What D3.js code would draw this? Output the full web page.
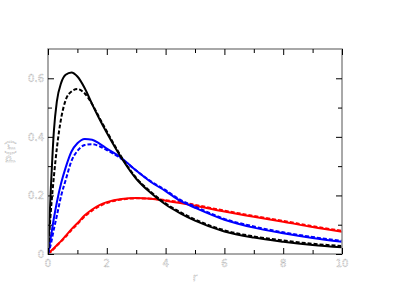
<!DOCTYPE html>
<html>
<head>
<meta charset="utf-8">
<script src="https://cdn.jsdelivr.net/npm/d3@7"></script>
<style>
  body { margin: 0; background: #fff; }
  svg { display: block; }
</style>
</head>
<body>
<div id="chart"></div>
<script>
// sample positions along r
const rs = [0, 0.1, 0.2, 0.3, 0.45, 0.6, 0.8, 1.0, 1.25, 1.5, 1.75, 2, 2.5, 3, 3.5, 4, 4.5, 5, 6, 7, 8, 9, 10];

const blackSolid  = [0, 0.23, 0.42, 0.52, 0.585, 0.612, 0.62, 0.606, 0.566, 0.512, 0.461, 0.414, 0.328, 0.257, 0.208, 0.169, 0.139, 0.114, 0.077, 0.056, 0.042, 0.031, 0.023];
const blackDashed = [0, 0.15, 0.264, 0.36, 0.465, 0.525, 0.555, 0.563, 0.548, 0.512, 0.465, 0.419, 0.331, 0.26, 0.212, 0.173, 0.143, 0.118, 0.081, 0.06, 0.046, 0.035, 0.027];
const blueSolid   = [0, 0.06, 0.122, 0.176, 0.243, 0.295, 0.35, 0.378, 0.393, 0.39, 0.377, 0.36, 0.328, 0.285, 0.246, 0.215, 0.181, 0.158, 0.117, 0.09, 0.071, 0.055, 0.042];
const blueDashed  = [0, 0.035, 0.085, 0.13, 0.2, 0.252, 0.318, 0.352, 0.372, 0.375, 0.368, 0.355, 0.325, 0.285, 0.248, 0.218, 0.185, 0.162, 0.12, 0.094, 0.074, 0.058, 0.045];
const redSolid    = [0, 0.01, 0.02, 0.03, 0.045, 0.062, 0.085, 0.105, 0.132, 0.152, 0.167, 0.177, 0.188, 0.191, 0.189, 0.182, 0.174, 0.165, 0.145, 0.127, 0.11, 0.092, 0.076];
const redDashed   = [0, 0.008, 0.018, 0.028, 0.043, 0.059, 0.082, 0.102, 0.128, 0.148, 0.163, 0.174, 0.186, 0.19, 0.189, 0.184, 0.177, 0.168, 0.148, 0.13, 0.113, 0.095, 0.079];

const xTicks = [0, 2, 4, 6, 8, 10];
const yTicks = [0, 0.2, 0.4, 0.6];

const series = [
  { v: redSolid, color: "#ff0000", dash: null },
  { v: redDashed, color: "#ff0000", dash: "4,2" },
  { v: blueSolid, color: "#0000ff", dash: null },
  { v: blueDashed, color: "#0000ff", dash: "4,2" },
  { v: blackSolid, color: "#000000", dash: null },
  { v: blackDashed, color: "#000000", dash: "4,2" }
];

let width = 415, height = 294;
let margin = { top: 49, right: 73, bottom: 40, left: 48 };
let w = width - margin.left - margin.right,
    h = height - margin.top - margin.bottom;

let x = d3.scaleLinear().domain([0, 10]).range([0, w]);
let y = d3.scaleLinear().domain([0, 0.7]).range([h, 0]);

let svg = d3.select("#chart").append("svg")
    .attr("width", width)
    .attr("height", height)
  .append("g")
    .attr("transform", "translate(" + margin.left + "," + margin.top + ")");

let line = d3.line()
    .x(function(d) { return x(d[0]); })
    .y(function(d) { return y(d[1]); })
    .curve(d3.curveMonotoneX);

svg.append("defs").append("clipPath").attr("id", "clip")
  .append("rect").attr("width", w).attr("height", h);

series.forEach(function(s) {
  svg.append("path")
      .datum(rs.map(function(r, i) { return [r, s.v[i]]; }))
      .attr("clip-path", "url(#clip)")
      .attr("fill", "none")
      .attr("stroke", s.color)
      .attr("stroke-width", 2)
      .attr("stroke-dasharray", s.dash)
      .attr("d", line);
});

// frame
svg.append("rect")
    .attr("width", w).attr("height", h)
    .attr("fill", "none")
    .attr("stroke", "#8c8c8c")
    .attr("stroke-width", 1.5);

// inward ticks on all four sides
let xMinor = d3.range(1, 10, 2);
let yMinor = d3.range(0.1, 0.7, 0.2);

function tickAxis(axis, ticks, len) {
  return axis.tickValues(ticks).tickSize(-len).tickFormat("");
}

[[xTicks, 6], [xMinor, 4]].forEach(function(t) {
  svg.append("g").attr("transform", "translate(0," + h + ")")
    .call(tickAxis(d3.axisBottom(x), t[0], t[1]));
  svg.append("g")
    .call(tickAxis(d3.axisTop(x), t[0], t[1]));
});
[[yTicks, 6], [yMinor, 4]].forEach(function(t) {
  svg.append("g")
    .call(tickAxis(d3.axisLeft(y), t[0], t[1]));
  svg.append("g").attr("transform", "translate(" + w + ",0)")
    .call(tickAxis(d3.axisRight(y), t[0], t[1]));
});
svg.selectAll(".domain").remove();
svg.selectAll(".tick line").attr("stroke", "#000").attr("stroke-width", 1);

// tick labels, pale outlined text
function pale(sel) {
  return sel.attr("fill", "#f4f4f4")
    .attr("stroke", "#b0b0b0")
    .attr("stroke-width", 0.6)
    .attr("stroke-dasharray", "1,0.8")
    .style("font-family", "DejaVu Sans, sans-serif");
}

svg.selectAll(".xlab").data(xTicks).enter().append("text")
    .attr("x", function(d) { return x(d); })
    .attr("y", h + 13)
    .attr("text-anchor", "middle")
    .style("font-size", "10px")
    .text(function(d) { return d; })
    .call(pale);

svg.selectAll(".ylab").data(yTicks).enter().append("text")
    .attr("x", -4)
    .attr("y", function(d) { return y(d) + 4; })
    .attr("text-anchor", "end")
    .style("font-size", "10px")
    .text(function(d) { return d === 0 ? "0" : d.toFixed(1); })
    .call(pale);

svg.append("text")
    .attr("x", w / 2)
    .attr("y", h + 27)
    .attr("text-anchor", "middle")
    .style("font-size", "11px")
    .text("r")
    .call(pale);

svg.append("text")
    .attr("transform", "translate(-33," + (y(0.35)) + ") rotate(-90)")
    .attr("text-anchor", "middle")
    .style("font-size", "13px")
    .text("P(r)")
    .call(pale);
</script>
</body>
</html>
